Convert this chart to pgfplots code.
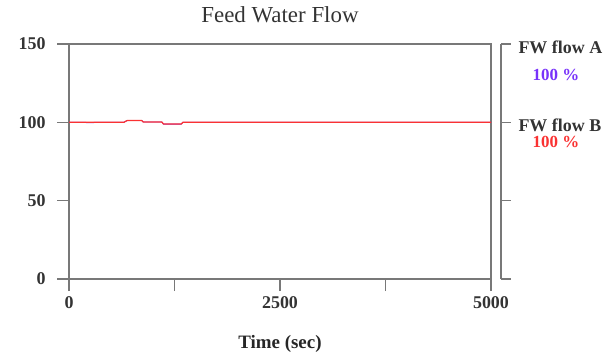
\documentclass[border=0pt]{standalone}
\usepackage{pgfplots}
\pgfplotsset{compat=1.18}
\usepackage{fontspec}
\setmainfont{Liberation Serif}
\definecolor{axgray}{RGB}{120,120,120}
\definecolor{fwred}{RGB}{250,50,50}
\definecolor{fwpurple}{RGB}{120,50,250}
\begin{document}
\begin{tikzpicture}
\path[use as bounding box] (0,0) rectangle (608bp,358bp);
\begin{axis}[
  at={(69bp,79bp)}, anchor=south west,
  scale only axis, width=422bp, height=235bp,
  xmin=0, xmax=5000, ymin=0, ymax=150,
  xtick={0,1250,2500,3750,5000},
  xticklabels={0,,2500,,5000},
  ytick={0,50,100,150},
  tick pos=left, tick align=outside,
  major tick length=12bp,
  axis line style={axgray, line width=1.1pt},
  every tick/.style={axgray, line width=1.1pt},
  /pgf/number format/assume math mode=true,
  ticklabel style={font=\fontsize{18}{20}\selectfont\bfseries, text=black!80},
  xticklabel style={yshift=-2bp},
  yticklabel style={xshift=-8bp},
  xlabel={\textbf{Time (sec)}},
  xlabel style={font=\fontsize{19}{22}\selectfont, text=black!85, yshift=-20bp},
  title={Feed Water Flow},
  title style={font=\fontsize{23}{25}\selectfont, text=black!80, yshift=12bp},
  clip=false,
]
\addplot[fwpurple, line width=0.9pt] coordinates {
(0,100) (200,100) (210,99.7) (290,99.7) (300,100) (650,100) (690,101.2) (860,101.2) (880,100.2) (1100,100.2) (1120,98.9) (1330,98.9) (1350,100) (5000,100)};
\addplot[fwred, line width=1.2pt] coordinates {
(0,100) (650,100) (690,101.2) (860,101.2) (880,100.2) (1100,100.2) (1120,98.9) (1330,98.9) (1350,100) (5000,100)};
\end{axis}
\begin{axis}[
  at={(501bp,79bp)}, anchor=south west,
  scale only axis, width=1bp, height=235bp,
  xmin=0, xmax=1, ymin=0, ymax=150,
  axis y line=left, axis x line=none,
  ytick={0,50,100,150}, yticklabels={},
  tick align=inside, major tick length=10bp,
  axis line style={axgray, line width=1.1pt, -},
  every tick/.style={axgray, line width=1.1pt},
]
\end{axis}
\node[font=\fontsize{18}{20}\selectfont\bfseries, text=black!80, anchor=west] at (515bp,311bp) {FW flow A};
\node[font=\fontsize{17}{19}\selectfont\bfseries, text=fwpurple] at (556bp,283bp) {100 \%};
\node[font=\fontsize{18}{20}\selectfont\bfseries, text=black!80, anchor=west] at (515bp,233bp) {FW flow B};
\node[font=\fontsize{17}{19}\selectfont\bfseries, text=fwred] at (556bp,216bp) {100 \%};
\end{tikzpicture}
\end{document}
